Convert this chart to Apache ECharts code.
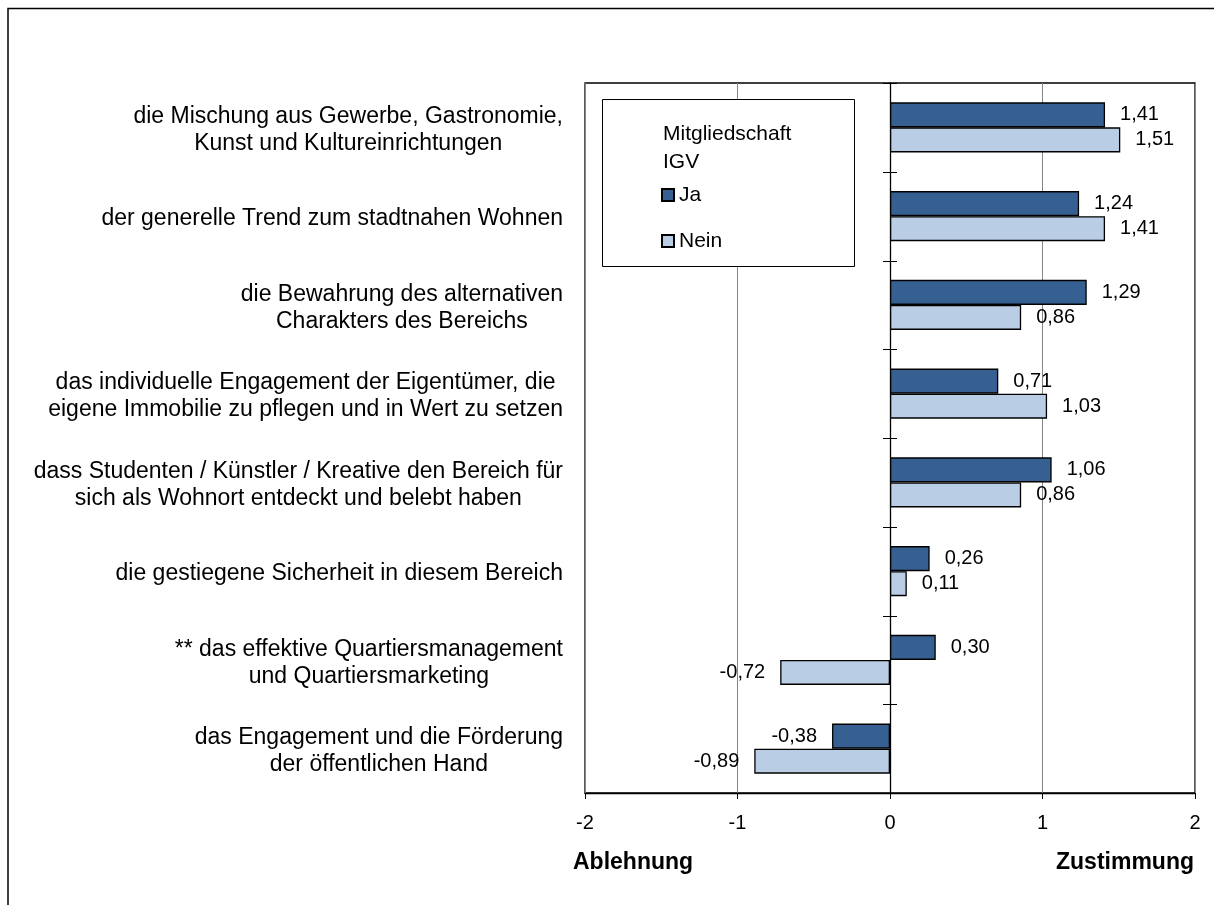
<!DOCTYPE html>
<html>
<head>
<meta charset="utf-8">
<script src="https://cdn.jsdelivr.net/npm/echarts@6/dist/echarts.min.js"></script>
<style>
  html, body { margin: 0; padding: 0; background: #fff; }
  #chart { width: 1214px; height: 905px; }
</style>
</head>
<body>
<div id="chart"></div>
<script>
// Statements (top to bottom)
const categories = [
  'die Mischung aus Gewerbe, Gastronomie,\nKunst und Kultureinrichtungen',
  'der generelle Trend zum stadtnahen Wohnen',
  'die Bewahrung des alternativen\nCharakters des Bereichs',
  'das individuelle Engagement der Eigentümer, die\neigene Immobilie zu pflegen und in Wert zu setzen',
  'dass Studenten / Künstler / Kreative den Bereich für\nsich als Wohnort entdeckt und belebt haben',
  'die gestiegene Sicherheit in diesem Bereich',
  '** das effektive Quartiersmanagement\nund Quartiersmarketing',
  'das Engagement und die Förderung\nder öffentlichen Hand'
];

// Mean agreement by IGV membership
const seriesNames = ['Ja', 'Nein'];
const jaValues   = [1.41, 1.24, 1.29, 0.71, 1.06, 0.26, 0.30, -0.38];
const neinValues = [1.51, 1.41, 0.86, 1.03, 0.86, 0.11, -0.72, -0.89];

// Scale ticks and texts
const xTicks = [-2, -1, 0, 1, 2];
const axisNames = ['Ablehnung', 'Zustimmung'];
const legendTitle = 'Mitgliedschaft\nIGV';

const FONT = "'Liberation Sans', Arial, Helvetica, sans-serif";
const COLORS = ['#366092', '#b9cde5'];
const TICK_LEN = 7;

const fmt = v => v.toFixed(2).replace('.', ',');
const toItems = vals => vals.map(v => ({
  value: v,
  label: { position: v < 0 ? 'left' : 'right' }
}));

const chart = echarts.init(document.getElementById('chart'), null, { renderer: 'canvas' });

const barSeries = (name, vals, color) => ({
  name: name,
  type: 'bar',
  data: toItems(vals),
  barGap: '0%',
  barCategoryGap: '43.6%',
  itemStyle: { color: color, borderColor: '#000', borderWidth: 1.3 },
  label: {
    show: true,
    distance: 15,
    color: '#000',
    fontFamily: FONT,
    fontSize: 20,
    formatter: p => fmt(p.value)
  },
  emphasis: { disabled: true },
  animation: false
});

const option = {
  backgroundColor: '#fff',
  animation: false,
  textStyle: { fontFamily: FONT },
  title: {
    text: legendTitle,
    left: 663,
    top: 120,
    padding: 0,
    z: 6,
    textStyle: { fontFamily: FONT, fontSize: 21, fontWeight: 'normal', color: '#000', lineHeight: 28 }
  },
  legend: [0, 1].map(i => ({
    data: [seriesNames[i]],
    left: 661,
    top: [183, 229][i],
    padding: 0,
    z: 6,
    icon: 'rect',
    itemWidth: 12,
    itemHeight: 12,
    selectedMode: false,
    textStyle: { fontFamily: FONT, fontSize: 21, color: '#000', lineHeight: 24 }
  })),
  grid: {
    left: 585, right: 19, top: 83, bottom: 112,
    show: true, borderColor: '#000', borderWidth: 1.3,
    outerBoundsMode: 'none'
  },
  xAxis: {
    type: 'value',
    min: xTicks[0],
    max: xTicks[xTicks.length - 1],
    interval: 1,
    axisLine: { show: true, onZero: false, lineStyle: { color: '#000', width: 1.3 } },
    axisTick: { show: true, length: 6, lineStyle: { color: '#000', width: 1 } },
    axisLabel: {
      color: '#000', fontFamily: FONT, fontSize: 20, margin: 20,
      formatter: v => String(v).replace('.', ',')
    },
    splitLine: { show: true, lineStyle: { color: '#868686', width: 1 } }
  },
  yAxis: [
    {
      type: 'category',
      data: categories,
      inverse: true,
      position: 'left',
      axisLine: { show: false, onZero: false },
      axisTick: { show: false },
      axisLabel: {
        margin: 22,
        color: '#000',
        fontFamily: FONT,
        fontSize: 23,
        lineHeight: 27,
        interval: 0,
        padding: [6, 0, 0, 0],
        formatter: v => v.split('\n').map(l => '{c|' + l + '}').join('\n'),
        rich: { c: { align: 'center', fontFamily: FONT, fontSize: 23, lineHeight: 27, color: '#000' } }
      }
    },
    {
      // the category line drawn on x = 0
      type: 'category',
      data: categories,
      inverse: true,
      position: 'left',
      axisLine: { show: true, onZero: true, onZeroAxisIndex: 0, lineStyle: { color: '#000', width: 1.3 } },
      axisTick: { show: false },
      axisLabel: { show: false },
      splitLine: { show: false }
    }
  ],
  series: [
    barSeries(seriesNames[0], jaValues, COLORS[0]),
    barSeries(seriesNames[1], neinValues, COLORS[1])
  ],
  graphic: [
    {
      type: 'rect', z: -1, silent: true,
      shape: { x: 8, y: 8.5, width: 1230, height: 920 },
      style: { fill: 'none', stroke: '#000', lineWidth: 1.5 }
    },
    {
      type: 'rect', z: 3, silent: true,
      shape: { x: 602.5, y: 99.5, width: 252, height: 167 },
      style: { fill: '#fff', stroke: '#000', lineWidth: 1 }
    },
    {
      type: 'text', z: 5, silent: true, x: 573, y: 863,
      style: { text: axisNames[0], fill: '#000', font: 'bold 23px ' + FONT, align: 'left', verticalAlign: 'middle' }
    },
    {
      type: 'text', z: 5, silent: true, x: 1194, y: 863,
      style: { text: axisNames[1], fill: '#000', font: 'bold 23px ' + FONT, align: 'right', verticalAlign: 'middle' }
    }
  ]
};

chart.setOption(option);

// Boundary ticks crossing the zero line, placed through the axes' own scales.
const x0 = chart.convertToPixel({ xAxisIndex: 0 }, 0);
const centers = categories.map((c, i) => chart.convertToPixel({ yAxisIndex: 0 }, i));
const band = Math.abs(centers[1] - centers[0]);
const boundaries = centers.map(y => y - band / 2).concat([centers[centers.length - 1] + band / 2]);
boundaries.forEach(y => {
  const yy = Math.round(y) + 0.5;
  option.graphic.push({
    type: 'line', z: 4, silent: true,
    shape: { x1: Math.round(x0) - TICK_LEN, y1: yy, x2: Math.round(x0) + TICK_LEN, y2: yy },
    style: { stroke: '#000', lineWidth: 1 }
  });
});
chart.setOption(option, true);
</script>
</body>
</html>
